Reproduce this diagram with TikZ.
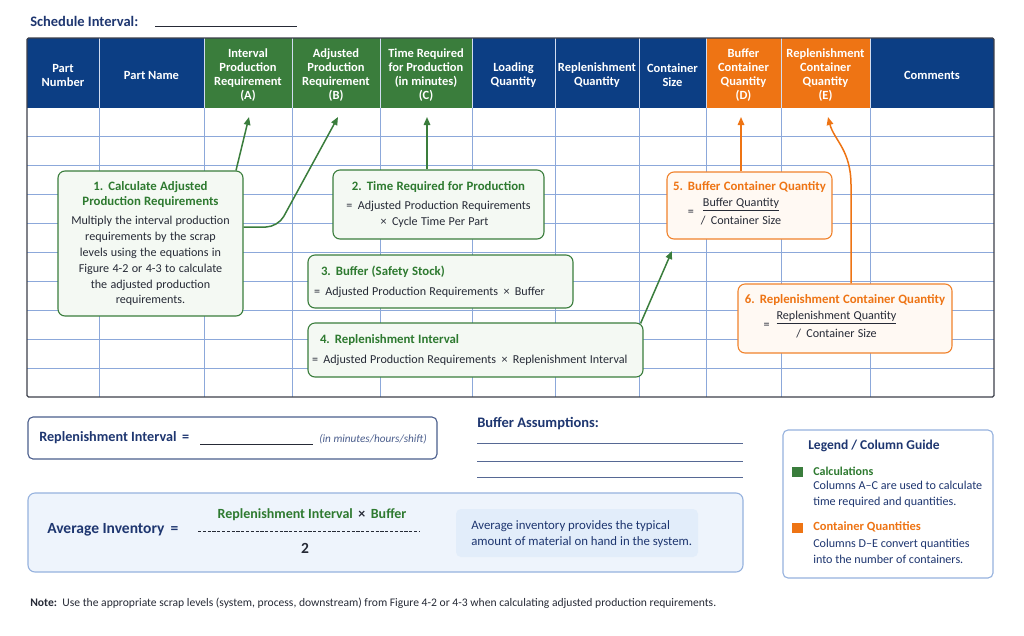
\documentclass[tikz,border=0pt]{standalone}
\usepackage{fontspec}
\setmainfont{Carlito}
\usepackage{tikz}
\usetikzlibrary{
	arrows.meta,
	positioning
}
\definecolor{HeadNavy}{RGB}{12,62,132}
\definecolor{CalcGreen}{RGB}{58,125,60}
\definecolor{TextGreen}{RGB}{46,122,48}
\definecolor{QtyOrange}{RGB}{238,116,20}
\definecolor{GridBlue}{RGB}{140,168,218}
\definecolor{InkDark}{RGB}{38,42,54}
\definecolor{InkNavy}{RGB}{30,54,112}
\definecolor{GreenFill}{RGB}{244,249,243}
\definecolor{OrangeFill}{RGB}{255,249,243}
\definecolor{AvgFill}{RGB}{238,244,252}
\definecolor{AvgNote}{RGB}{226,237,250}
\definecolor{AvgLine}{RGB}{150,178,222}
\tikzset{every path/.append style={line width=0.5pt}}
\tikzset{
	headtext/.style={text=white,font=\fontsize{12.5}{14}\selectfont\bfseries,align=center,inner sep=0pt},
	gridline/.style={GridBlue,line width=0.9pt},
	callg/.style={draw=CalcGreen,fill=GreenFill,rounded corners=7pt,line width=1.1pt,text=InkDark,inner sep=0pt},
	callo/.style={draw=QtyOrange!90,fill=OrangeFill,rounded corners=7pt,line width=1.1pt,text=InkDark,inner sep=0pt},
	linkg/.style={CalcGreen,line width=1.5pt,-{Triangle[length=8pt,width=6.5pt]}},
	linko/.style={QtyOrange,line width=1.5pt,-{Triangle[length=8pt,width=6.5pt]}},
	lbl/.style={text=InkNavy,font=\fontsize{14.5}{16}\selectfont\bfseries,inner sep=0pt},
	plain/.style={text=InkDark,inner sep=0pt,align=left},
	swatch/.style={minimum width=11pt,minimum height=10pt,inner sep=0pt}
}
\newcommand{\calltitle}[2]{{\color{#1}\fontsize{12.8}{15}\selectfont\bfseries #2\par}}
\newcommand{\callbody}[1]{{\fontsize{12.1}{15.8}\selectfont #1\par}}
\newcommand{\callfrac}[2]{{\fontsize{12.1}{14}\selectfont\renewcommand{\arraystretch}{1.25}%
	=\hspace{7pt}\begin{tabular}[c]{@{}c@{}}\underline{#1}\\ / \,#2\end{tabular}\hspace*{30pt}\par}}

\begin{document}
\begin{tikzpicture}[x=1pt,y=-1pt]
	\fill[white] (0,0) rectangle (1024,635);
	\useasboundingbox (0,0) rectangle (1024,635);
	
	% Schedule interval
	\node[lbl,anchor=west] (sched) at (30,21) {Schedule Interval:};
	\draw[InkDark,line width=1pt] (155,26) -- (297,26);
	
	% Header cells
	\foreach \n/\xa/\xb/\c/\t in {
		pnum/27/99/HeadNavy/{Part\\Number},
		pname/99/204/HeadNavy/{Part Name},
		ipr/204/292/CalcGreen/{Interval\\Production\\Requirement\\(A)},
		apr/292/380/CalcGreen/{Adjusted\\Production\\Requirement\\(B)},
		treq/380/472/CalcGreen/{Time Required\\for Production\\(in minutes)\\(C)},
		lq/472/555/HeadNavy/{Loading\\Quantity},
		rq/555/639/HeadNavy/{Replenishment\\Quantity},
		csz/639/706/HeadNavy/{Container\\Size},
		bcq/706/781/QtyOrange/{Buffer\\Container\\Quantity\\(D)},
		rcq/781/870/QtyOrange/{Replenishment\\Container\\Quantity\\(E)},
		cmt/870/994/HeadNavy/{Comments}}{
		\fill[\c] (\xa,38) rectangle (\xb,108);
		\node[headtext] (h\n) at ({(\xa+\xb)/2},75) {\t};
	}
	
	% Grid of the form
	\foreach \x in {99,204,292,380,472,555,639,706,781,870}{
		\draw[white!60!GridBlue,line width=0.8pt] (\x,38) -- (\x,108);
		\draw[gridline] (\x,108) -- (\x,397);
	}
	\foreach \i in {1,...,9}
		\draw[gridline] (27,{108+28.9*\i}) -- (994,{108+28.9*\i});
	\draw[InkDark!90,line width=1.3pt,rounded corners=1.5pt] (27,38) rectangle (994,397);
	
	% Arrow targets in the columns
	\coordinate (tA) at (249,117);
	\coordinate (tB) at (338,117);
	\coordinate (tC) at (427,117);
	\coordinate (tD) at (741,117);
	\coordinate (tE) at (828,117);
	\coordinate (t5) at (672,251);
	
	% Calculation callouts
	\node[callg,minimum width=185pt,minimum height=145pt,text width=179pt,align=center] (c1) at (150.5,243.5) {%
		\calltitle{TextGreen}{1. Calculate Adjusted\\Production Requirements}\vspace{4pt}%
		\callbody{Multiply the interval production\\requirements by the scrap\\levels using the equations in\\Figure 4-2 or 4-3 to calculate\\the adjusted production\\requirements.}};
	\node[callg,minimum width=211pt,minimum height=69pt,text width=205pt,align=center] (c2) at (438.5,204.5) {%
		\calltitle{TextGreen}{2. Time Required for Production}\vspace{3pt}%
		{\fontsize{12.1}{16}\selectfont = \,Adjusted Production Requirements\\\hspace*{-8pt}× \,Cycle Time Per Part\par}};
	\node[callg,minimum width=265pt,minimum height=53pt,text width=253pt,align=left] (c3) at (440.5,281.5) {%
		\calltitle{TextGreen}{\hspace*{7pt}3. Buffer (Safety Stock)}\vspace{4pt}%
		\callbody{= \,Adjusted Production Requirements \,× \,Buffer}};
	\node[callg,minimum width=335pt,minimum height=54pt,text width=327pt,align=left] (c4) at (475.5,350) {%
		\calltitle{TextGreen}{\hspace*{8pt}4. Replenishment Interval}\vspace{4pt}%
		\callbody{= \,Adjusted Production Requirements \,× \,Replenishment Interval}};
	
	% Container callouts
	\node[callo,minimum width=165pt,minimum height=67pt,text width=159pt,align=center] (c5) at (749.5,205.5) {%
		\calltitle{QtyOrange}{5. Buffer Container Quantity}\vspace{1pt}%
		\callfrac{Buffer Quantity}{Container Size}};
	\node[callo,minimum width=214pt,minimum height=69pt,text width=208pt,align=center] (c6) at (845,318.5) {%
		\calltitle{QtyOrange}{6. Replenishment Container Quantity}\vspace{1pt}%
		\callfrac{Replenishment Quantity}{Container Size}};
	
	% Connectors
	\draw[linkg] ([xshift=85.5pt]c1.north) -- (tA);
	\draw[linkg,rounded corners=12pt] ([yshift=16.5pt]c1.east) -- (278,227) -- (tB);
	\draw[linkg] ([xshift=-11.5pt]c2.north) -- (tC);
	\draw[linkg] ([xshift=-3pt,yshift=-1pt]c4.north east) -- (t5);
	\draw[linko] ([xshift=-8.5pt]c5.north) -- (tD);
	\draw[linko] ([xshift=6pt]c6.north) -- (851,185) .. controls (851,150) and (834,140) .. (tE);
	
	% Replenishment interval
	\node[draw=InkNavy!80,rounded corners=5pt,line width=1.1pt,minimum width=409pt,minimum height=42pt] (rbox) at (232.5,438) {};
	\node[lbl,anchor=west,font=\fontsize{14.2}{16}\selectfont\bfseries] (rlbl) at (39,438) {Replenishment Interval \,=};
	\draw[InkDark,line width=0.9pt] (200,444) -- (313,444);
	\node[plain,anchor=west,font=\fontsize{11.2}{13}\selectfont\itshape,text=InkNavy!80] (runit) at (319,439) {(in minutes/hours/shift)};
	
	% Buffer assumptions
	\node[lbl,anchor=west] (blbl) at (477,424) {Buffer Assumptions:};
	\foreach \y in {443,461,477}
		\draw[InkNavy!75,line width=0.9pt] (477,\y) -- (743,\y);
	
	% Average inventory
	\node[draw=AvgLine,fill=AvgFill,rounded corners=7pt,line width=1.1pt,minimum width=715pt,minimum height=79pt] (avg) at (385.5,532.5) {};
	\node[lbl,anchor=west,font=\fontsize{15.5}{17}\selectfont\bfseries] (albl) at (47,530) {Average Inventory \,=};
	\node[inner sep=0pt,text=TextGreen,font=\fontsize{14}{16}\selectfont\bfseries] (anum) at (312,515) {Replenishment Interval \,{\color{InkDark}×} \,Buffer};
	\draw[InkDark,line width=1pt,dash pattern=on 3.2pt off 1.6pt] (198,531) -- (420,531);
	\node[inner sep=0pt,text=InkDark,font=\fontsize{15.5}{17}\selectfont\bfseries] (aden) at (305,548) {2};
	\node[fill=AvgNote,rounded corners=5pt,minimum width=242pt,minimum height=48pt] (anote) at (577,533) {};
	\node[plain,anchor=west,text=InkNavy,font=\fontsize{12.8}{16}\selectfont] (atext) at (471,534) {Average inventory provides the typical\\amount of material on hand in the system.};
	
	% Legend
	\node[draw=AvgLine,fill=white,rounded corners=5pt,line width=1.1pt,minimum width=210pt,minimum height=148pt] (legend) at (888,504) {};
	\node[lbl,anchor=west,font=\fontsize{13.5}{15}\selectfont\bfseries] (ltitle) at (808,446) {Legend / Column Guide};
	\node[swatch,fill=CalcGreen] (lsg) at (797.5,471.5) {};
	\node[plain,anchor=west,text=TextGreen,font=\fontsize{12}{14}\selectfont\bfseries] (lcalc) at (813,471) {Calculations};
	\node[plain,anchor=north west,font=\fontsize{12.1}{15.5}\selectfont,text=InkNavy] (lcalct) at (813,481) {Columns A–C are used to calculate\\time required and quantities.};
	\node[swatch,fill=QtyOrange] (lso) at (797.5,527.5) {};
	\node[plain,anchor=west,text=QtyOrange,font=\fontsize{12.5}{14}\selectfont\bfseries] (lcont) at (813,527) {Container Quantities};
	\node[plain,anchor=north west,font=\fontsize{12.1}{15.5}\selectfont,text=InkNavy] (lcontt) at (813,539) {Columns D–E convert quantities\\into the number of containers.};
	
	% Note
	\node[plain,anchor=west,font=\fontsize{11.6}{13}\selectfont,text=InkDark] (note) at (30,603) {\textbf{Note:}\, Use the appropriate scrap levels (system, process, downstream) from Figure 4-2 or 4-3 when calculating adjusted production requirements.};
\end{tikzpicture}
\end{document}
